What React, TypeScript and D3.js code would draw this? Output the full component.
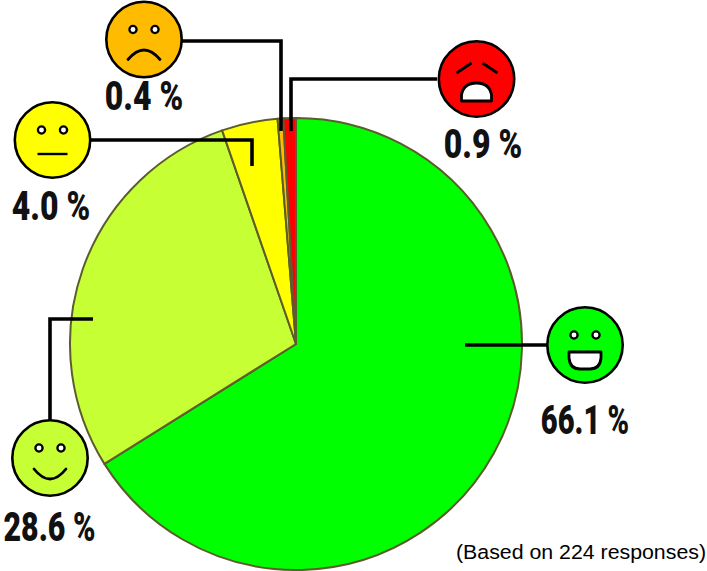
import React from "react";
import * as d3 from "d3";

const moods = ["very satisfied", "satisfied", "neutral", "dissatisfied", "very dissatisfied"];
const shares = [66.1, 28.6, 4.0, 0.4, 0.9];
const labels = ["66.1 %", "28.6 %", "4.0 %", "0.4 %", "0.9 %"];
const colors = ["#00ff00", "#c6ff33", "#ffff00", "#ffbb00", "#ff0000"];
const note = "(Based on 224 responses)";

const faceX = [585, 50, 52.5, 144, 476.5];
const faceY = [345, 458, 140, 39.5, 79];
const labelX = [585, 49.5, 51, 144, 483];
const labelY = [434, 541, 220, 110, 158];
const labelStretch = [0.71, 0.74, 0.78, 0.78, 0.78];
const leaders = [
  "M465 345H547",
  "M93 319H50V420",
  "M91 140H252V166",
  "M182 41H281V131",
  "M291 131V79H437",
];

const mouth = (i: number) => {
  switch (i) {
    case 0:
      return <path d="M-16 7H16V13Q15 24 5 24H-5Q-15 24 -16 13Z" fill="#fff" stroke="#000" strokeWidth={2.8} strokeLinejoin="round" />;
    case 1:
      return <path d="M-16 11Q0 31 16 11" fill="none" stroke="#000" strokeWidth={2.8} strokeLinecap="round" />;
    case 2:
      return <path d="M-15 14H15" fill="none" stroke="#000" strokeWidth={2.4} />;
    case 3:
      return <path d="M-16 20Q0 1 16 20" fill="none" stroke="#000" strokeWidth={2.8} strokeLinecap="round" />;
    default:
      return <path d="M-15 22V16Q-13 4 0 4Q13 4 15 16V22Z" fill="#fff" stroke="#000" strokeWidth={2.8} strokeLinejoin="round" />;
  }
};

export default function App() {
  const cx = 296, cy = 344, r = 226;
  const pie = d3.pie<number>().sort(null).value((d) => d);
  const arc = d3.arc<d3.PieArcDatum<number>>().innerRadius(0).outerRadius(r);
  const arcs = pie(shares);
  return (
    <svg width={707} height={571} style={{ position: "absolute", left: 0, top: 0, background: "#fff" }}>
      <g transform={`translate(${cx},${cy})`}>
        {arcs.map((a, i) => (
          <path key={moods[i]} d={arc(a) ?? ""} fill={colors[i]} stroke="#5c5c2e" strokeWidth={2} strokeLinejoin="round" />
        ))}
      </g>
      {leaders.map((d, i) => (
        <path key={i} d={d} fill="none" stroke="#000" strokeWidth={3.6} />
      ))}
      {moods.map((m, i) => (
        <g key={m} transform={`translate(${faceX[i]},${faceY[i]})`}>
          <circle r={37.7} fill={colors[i]} stroke="#000" strokeWidth={2.6} />
          {i === 4 ? (
            <path d="M-20 -6L-5 -16M6 -16L21 -6" fill="none" stroke="#000" strokeWidth={2.8} />
          ) : (
            <>
              <circle cx={-11} cy={-10} r={3.6} fill="#fff" stroke="#000" strokeWidth={2.3} />
              <circle cx={11} cy={-10} r={3.6} fill="#fff" stroke="#000" strokeWidth={2.3} />
            </>
          )}
          {mouth(i)}
        </g>
      ))}
      {labels.map((t, i) => (
        <text
          key={t}
          transform={`translate(${labelX[i]},${labelY[i]}) scale(${labelStretch[i]},1)`}
          textAnchor="middle"
          fontFamily="Roboto, sans-serif"
          fontWeight={900}
          fontSize={41}
          fill="#111"
        >
          {t}
        </text>
      ))}
      <text x={456} y={559} fontFamily="'Liberation Sans', Arial, sans-serif" fontSize={20.5} textLength={250} lengthAdjust="spacingAndGlyphs" fill="#000">
        {note}
      </text>
    </svg>
  );
}
